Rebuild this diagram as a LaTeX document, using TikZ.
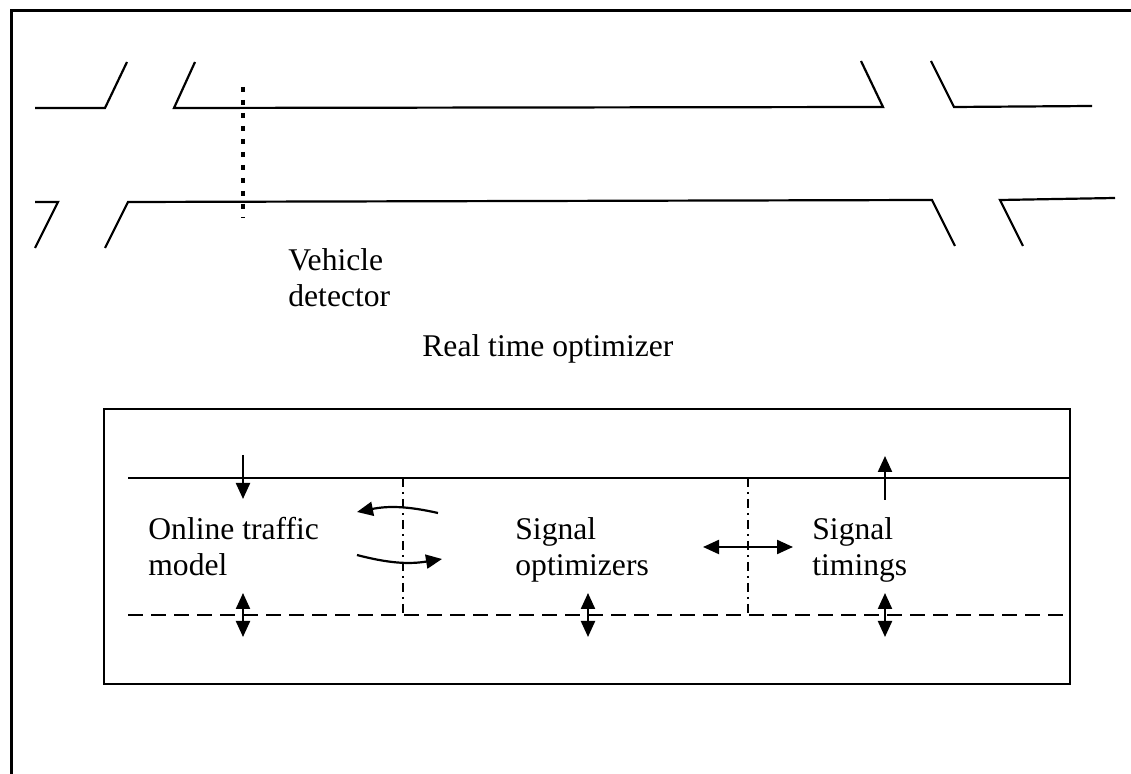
\documentclass[tikz,border=0pt]{standalone}
\usepackage{fontspec}
\setmainfont{Liberation Serif}
\usetikzlibrary{arrows.meta}
\tikzset{
	road/.style={line width=1.1pt},
	frameline/.style={line width=1.8pt},
	detector/.style={line width=1.8pt,dash pattern=on 2.5pt off 4pt},
	dashline/.style={line width=1pt,dash pattern=on 7.5pt off 4pt},
	dashdot/.style={line width=1pt,dash pattern=on 4.5pt off 2.5pt on 1pt off 2.5pt},
	txt/.style={inner sep=0pt,anchor=north west,align=left,font={\fontsize{15.8}{18}\selectfont}},
	flow/.style={line width=1.1pt,-{Triangle[length=8pt,width=7pt]}},
	twoway/.style={line width=1.1pt,{Triangle[length=8pt,width=7pt]}-{Triangle[length=8pt,width=7pt]}},
}
\begin{document}
\begin{tikzpicture}[x=0.5pt,y=-0.5pt]
		\useasboundingbox (0,0) rectangle (1131,774);
		\draw [frameline] (11.5,774) -- (11.5,10.5) -- (1131,10.5);
		\draw [road] (35,108) -- (105,108) -- (127,62);
		\draw [road] (195,62) -- (174,108) -- (883,107) -- (861,61);
		\draw [road] (931,61) -- (954,107) -- (1092,106);
		\draw [road] (35,202) -- (58,202) -- (35,248);
		\draw [road] (105,248) -- (128,202) -- (932,200) -- (955,246);
		\draw [road] (1023,246) -- (1000,200) -- (1115,198);
		\draw [detector] (243,87) -- (243,218);
		\node [txt] (veh) at (288,248) {Vehicle\\detector};
		\node [txt] (rto) at (422,334) {Real time optimizer};
		\draw [line width=1.3pt] (104,409) rectangle (1070,684);
		\draw [line width=1pt] (128,478) -- (1070,478);
		\draw [dashline] (128,615) -- (1070,615);
		\draw [dashdot] (403,478) -- (403,615);
		\draw [dashdot] (748,478) -- (748,615);
		\node [txt] (model) at (148,517) {Online traffic\\model};
		\node [txt] (opt) at (515,517) {Signal\\optimizers};
		\node [txt] (tim) at (812,517) {Signal\\timings};
		\coordinate (in) at (243,455);
		\coordinate (out) at (885,456);
		\draw [flow] (in) -- ++(0,44);
		\draw [flow] (885,500) -- (out);
		\draw [flow] (438,513) to [bend right=12] (357,512);
		\draw [flow] (357,555) to [bend right=12] (442,559);
		\draw [twoway] (703,547) -- (793,547);
		\draw [twoway] (243,593) -- (243,637);
		\draw [twoway] (588,593) -- (588,637);
		\draw [twoway] (885,593) -- (885,637);
		\end{tikzpicture}
\end{document}
